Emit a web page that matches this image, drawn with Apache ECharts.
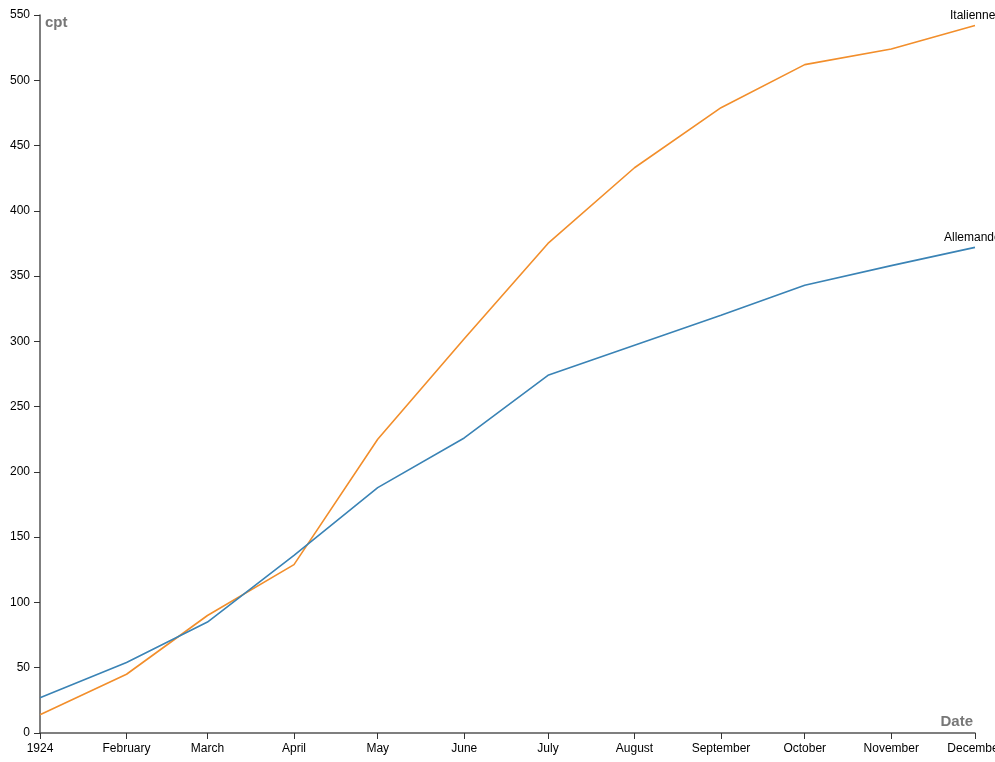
<!DOCTYPE html>
<html>
<head>
<meta charset="utf-8">
<script src="https://cdn.jsdelivr.net/npm/echarts@6/dist/echarts.min.js"></script>
<style>
  html, body { margin: 0; padding: 0; background: #fff; }
  #main { width: 995px; height: 762px; }
</style>
</head>
<body>
<div id="main"></div>
<script>
// données (cumul par mois, 1924)
var year = 1924;
var monthNames = ['1924', 'February', 'March', 'April', 'May', 'June', 'July',
    'August', 'September', 'October', 'November', 'December'];
var italienne = [14, 45, 90, 129, 225, 302, 375, 433, 479, 512, 524, 542];
var allemande = [27, 54, 85, 136, 188, 226, 274, 297, 320, 343, 358, 372];

// début de chaque mois (ms) -> axe x proportionnel aux jours
var monthStarts = monthNames.map(function (n, i) {
    return Date.UTC(year, i, 1);
});

function toPoints(values) {
    return values.map(function (v, i) { return [monthStarts[i], v]; });
}

var chart = echarts.init(document.getElementById('main'));

var font = '"Liberation Sans", Arial, sans-serif';

var option = {
    backgroundColor: '#fff',
    animation: false,
    grid: { left: 40, right: 20, top: 15, bottom: 29, outerBoundsMode: 'none', containLabel: false },
    xAxis: {
        type: 'value',
        min: monthStarts[0],
        max: monthStarts[monthStarts.length - 1],
        name: 'Date',
        nameLocation: 'end',
        nameGap: 0,
        nameTextStyle: {
            fontFamily: font, fontSize: 15, color: '#777', fontWeight: 'bold',
            align: 'right', verticalAlign: 'bottom', padding: [0, 2, 4, 0]
        },
        axisLine: { lineStyle: { color: '#555', width: 1.5 } },
        axisTick: { show: true, length: 6, lineStyle: { color: '#333' }, customValues: monthStarts },
        axisLabel: {
            customValues: monthStarts,
            showMinLabel: true, showMaxLabel: true,
            margin: 10,
            fontFamily: font, fontSize: 12, color: '#000',
            formatter: function (v) {
                return monthNames[new Date(v).getUTCMonth()];
            }
        },
        splitLine: { show: false }
    },
    yAxis: {
        type: 'value',
        min: 0,
        max: 550,
        interval: 50,
        name: 'cpt',
        nameLocation: 'end',
        nameGap: 0,
        nameTextStyle: {
            fontFamily: font, fontSize: 15, color: '#777', fontWeight: 'bold',
            align: 'left', verticalAlign: 'top', padding: [0, 0, 0, 5]
        },
        axisLine: { show: true, lineStyle: { color: '#555', width: 1.5 } },
        axisTick: { show: true, length: 6, lineStyle: { color: '#333' } },
        axisLabel: { margin: 10, fontFamily: font, fontSize: 12, color: '#000' },
        splitLine: { show: false }
    },
    series: [
        {
            name: 'Italienne',
            type: 'line',
            data: toPoints(italienne),
            showSymbol: false,
            symbol: 'none',
            lineStyle: { color: '#f28e2b', width: 1.6 },
            endLabel: {
                show: true, formatter: 'Italienne', offset: [-33, -10],
                fontFamily: font, fontSize: 12, color: '#000'
            }
        },
        {
            name: 'Allemande',
            type: 'line',
            data: toPoints(allemande),
            showSymbol: false,
            symbol: 'none',
            lineStyle: { color: '#3a83b5', width: 1.6 },
            endLabel: {
                show: true, formatter: 'Allemande', offset: [-39, -10],
                fontFamily: font, fontSize: 12, color: '#000'
            }
        }
    ]
};

chart.setOption(option);
</script>
</body>
</html>
